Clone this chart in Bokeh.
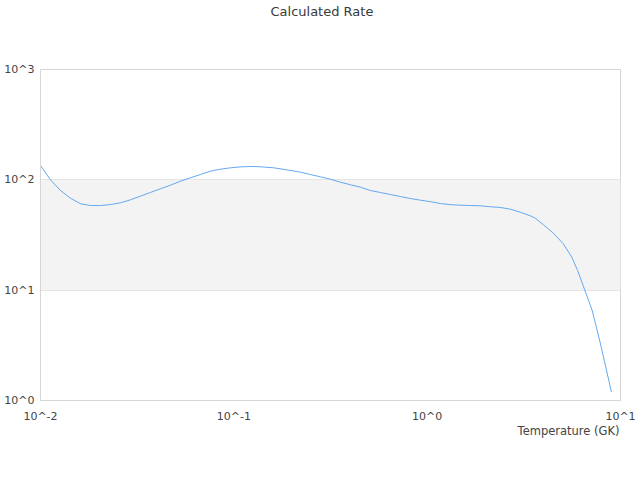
from bokeh.plotting import figure
from bokeh.embed import file_html
from bokeh.resources import INLINE
from bokeh.models import FixedTicker, CustomJSTickFormatter, BoxAnnotation, Title, ColumnDataSource

# Temperature (GK) and calculated rate
temperature = [0.01000, 0.01126, 0.01269, 0.01429, 0.01610, 0.01813, 0.02042, 0.02300,
               0.02591, 0.02918, 0.03287, 0.03702, 0.04170, 0.04697, 0.05291, 0.05959,
               0.06712, 0.07560, 0.08516, 0.09592, 0.1080, 0.1217, 0.1371, 0.1610,
               0.1963, 0.2211, 0.2490, 0.2805, 0.3159, 0.3559, 0.4009, 0.4515, 0.5086,
               0.5729, 0.6453, 0.7268, 0.8187, 0.9222, 1.039, 1.170, 1.318, 1.485, 1.672,
               1.884, 2.122, 2.390, 2.692, 3.033, 3.416, 3.625, 4.00, 4.50, 5.06, 5.60,
               6.00, 6.41, 7.14, 7.94, 8.98]
rate = [134.9, 100.0, 80.0, 68.2, 60.7, 58.5, 58.5, 59.7,
        61.9, 65.9, 71.1, 76.8, 82.9, 89.4, 97.2, 104.3,
        111.7, 119.7, 124.8, 128.4, 131.0, 132.1, 131.3, 128.5,
        121.6, 117.3, 111.7, 106.5, 101.3, 95.2, 90.2, 85.8, 80.0,
        76.8, 73.6, 70.6, 67.7, 65.4, 63.4, 61.0, 59.6, 58.9, 58.5,
        58.2, 57.0, 56.2, 54.2, 50.9, 47.2, 44.9, 39.1, 32.8, 26.3, 19.9,
        15.1, 11.0, 6.55, 3.08, 1.19]

x_ticks = [0.01, 0.1, 1, 10]
y_ticks = [1, 10, 100, 1000]
title_text = "Calculated Rate"
x_label = "Temperature (GK)"

FONT = "DejaVu Sans"
TXT = "#444444"

p = figure(width=640, height=480, x_axis_type="log", y_axis_type="log",
           x_range=(0.01, 10), y_range=(1, 1000), title=None,
           output_backend="svg", toolbar_location=None,
           min_border_left=40, min_border_right=20, min_border_top=69, min_border_bottom=80)

p.outline_line_color = "#d6d6d6"
p.background_fill_color = "white"
p.border_fill_color = "white"

band = BoxAnnotation(bottom=10, top=100, fill_color="#f3f3f3", fill_alpha=1.0,
                     line_color=None, level="underlay")
p.add_layout(band)

fmt = CustomJSTickFormatter(code="return '10^' + Math.round(Math.log10(tick));")
for ax, ticks in ((p.xaxis, x_ticks), (p.yaxis, y_ticks)):
    ax.ticker = FixedTicker(ticks=ticks, minor_ticks=[])
    ax.formatter = fmt
    ax.major_tick_line_color = None
    ax.minor_tick_line_color = None
    ax.major_tick_out = 0
    ax.major_tick_in = 0
    ax.minor_tick_out = 0
    ax.minor_tick_in = 0
    ax.axis_line_color = "#d6d6d6"
    ax.major_label_text_font = FONT
    ax.major_label_text_font_size = "11px"
    ax.major_label_text_color = TXT
p.yaxis.major_label_standoff = 6
p.xaxis.major_label_standoff = 9

p.xgrid.grid_line_color = None
p.ygrid.grid_line_color = "#e0e0e0"
p.ygrid.ticker = FixedTicker(ticks=y_ticks)

# empty spacer next to the frame, then the chart title above it
spacer = Title(text=" ", text_font_size="1px", standoff=47)
p.add_layout(spacer, "above")
title = Title(text=title_text, align="left", offset=230, vertical_align="bottom",
              text_font=FONT, text_font_size="13px", text_font_style="normal",
              text_color="#3a3a3a", standoff=2)
p.add_layout(title, "above")

xl = Title(text=x_label, align="right", offset=1, vertical_align="top",
           text_font=FONT, text_font_size="11.5px", text_font_style="normal",
           text_color=TXT, standoff=0)
try:
    xl.standoff = -4
except Exception:
    xl.standoff = 0
p.add_layout(xl, "below")

src = ColumnDataSource(data=dict(t=temperature, r=rate))
p.line("t", "r", source=src, line_color="#64a8f0", line_width=1)

open("out.html", "w").write(file_html(p, INLINE))
